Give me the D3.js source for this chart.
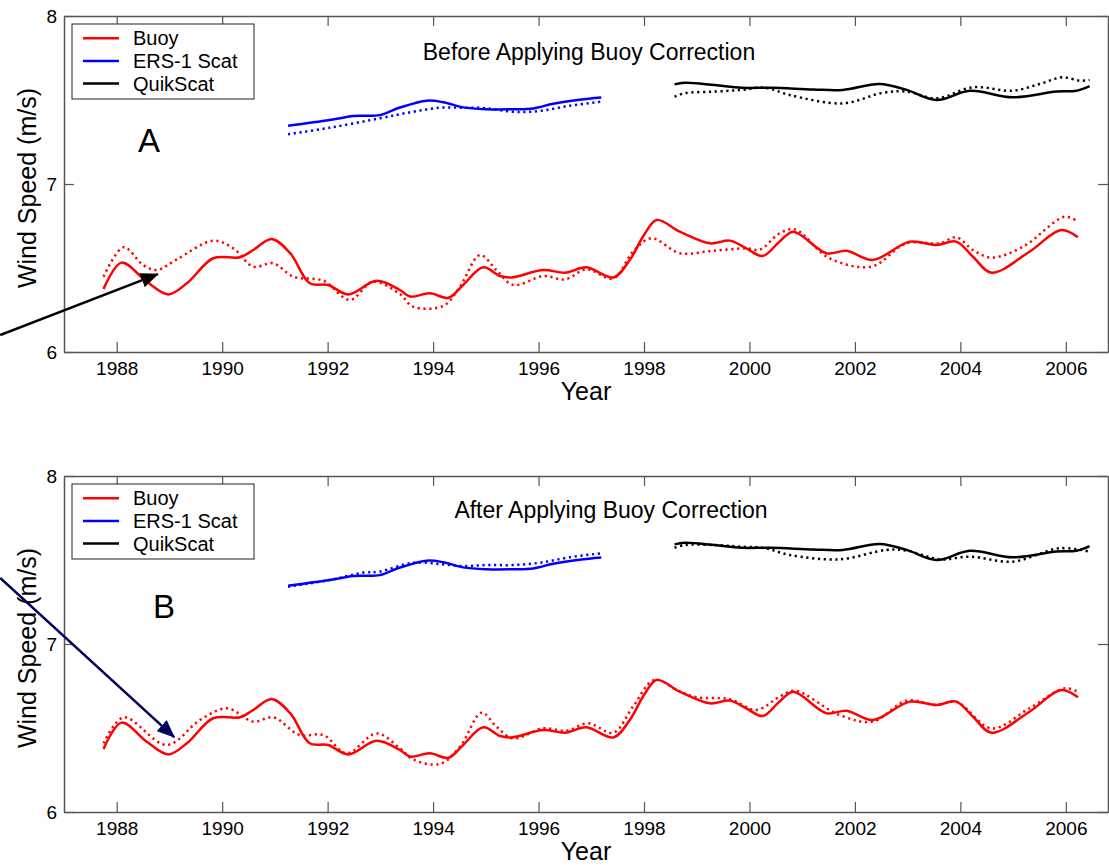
<!DOCTYPE html>
<html>
<head>
<meta charset="utf-8">
<script src="https://cdn.jsdelivr.net/npm/d3@7"></script>
<style>
  body { margin: 0; background: #fff; }
  svg text { font-family: Arial, "Liberation Sans", Helvetica, sans-serif; fill: #000; }
</style>
</head>
<body>
<svg id="chart" width="1109" height="866"></svg>
<script>
// ---- data -------------------------------------------------------------
const xTicks = [1988, 1990, 1992, 1994, 1996, 1998, 2000, 2002, 2004, 2006];
const yTicks = [6, 7, 8];
const legendLabels = ["Buoy", "ERS-1 Scat", "QuikScat"];
const legendColors = ["#ff0000", "#0000ff", "#000000"];
const panelTitles = ["Before Applying Buoy Correction", "After Applying Buoy Correction"];
const panelLetters = ["A", "B"];

// solid curves: [year, wind speed m/s]
const buoySolid = [
  [1987.75, 6.375], [1988.09, 6.532], [1988.57, 6.418], [1988.98, 6.343], [1989.33, 6.409],
  [1989.83, 6.558], [1990.34, 6.564], [1990.59, 6.607], [1990.94, 6.673], [1991.29, 6.588],
  [1991.66, 6.409], [1992.01, 6.399], [1992.39, 6.343], [1992.93, 6.424], [1993.37, 6.369],
  [1993.56, 6.330], [1993.94, 6.349], [1994.29, 6.323], [1994.57, 6.399], [1994.95, 6.504],
  [1995.27, 6.452], [1995.49, 6.444], [1996.09, 6.488], [1996.50, 6.472], [1996.91, 6.504],
  [1997.42, 6.444], [1997.73, 6.548], [1998.00, 6.696], [1998.24, 6.786], [1998.68, 6.716],
  [1999.25, 6.647], [1999.63, 6.663], [1999.94, 6.617], [2000.25, 6.571], [2000.57, 6.657],
  [2000.83, 6.716], [2001.46, 6.588], [2001.84, 6.603], [2002.34, 6.548], [2003.04, 6.657],
  [2003.55, 6.637], [2003.92, 6.657], [2004.24, 6.567], [2004.59, 6.472], [2005.31, 6.597],
  [2005.91, 6.726], [2006.23, 6.683]
];
const ersSolid = [
  [1991.25, 7.347], [1992.04, 7.381], [1992.49, 7.405], [1992.99, 7.410], [1993.37, 7.455],
  [1993.88, 7.496], [1994.19, 7.487], [1994.57, 7.456], [1995.01, 7.445], [1995.52, 7.445],
  [1995.90, 7.450], [1996.28, 7.478], [1996.78, 7.502], [1997.19, 7.515]
];
const qscatSolid = [
  [1998.58, 7.593], [1998.77, 7.603], [1999.34, 7.589], [1999.85, 7.573], [2000.42, 7.573],
  [2001.21, 7.563], [2001.77, 7.560], [2002.47, 7.595], [2002.98, 7.560], [2003.55, 7.500],
  [2004.18, 7.555], [2004.99, 7.516], [2005.82, 7.550], [2006.20, 7.555], [2006.45, 7.583]
];

// dotted curves, before correction
const buoyDottedBefore = [
  [1987.75, 6.448], [1988.13, 6.623], [1988.50, 6.518], [1988.76, 6.488], [1989.14, 6.551],
  [1989.83, 6.663], [1990.21, 6.617], [1990.59, 6.508], [1990.97, 6.528], [1991.35, 6.448],
  [1991.92, 6.424], [1992.42, 6.310], [1992.86, 6.418], [1993.37, 6.345], [1993.62, 6.270],
  [1994.19, 6.274], [1994.51, 6.389], [1994.89, 6.577], [1995.20, 6.488], [1995.52, 6.399],
  [1996.09, 6.452], [1996.50, 6.432], [1996.91, 6.492], [1997.42, 6.438], [1997.79, 6.597],
  [1998.14, 6.677], [1998.68, 6.588], [1999.31, 6.603], [1999.94, 6.617], [2000.20, 6.610],
  [2000.57, 6.706], [2000.86, 6.730], [2001.52, 6.558], [2002.31, 6.508], [2002.98, 6.647],
  [2003.61, 6.647], [2003.92, 6.683], [2004.24, 6.607], [2004.59, 6.562], [2005.19, 6.627],
  [2005.98, 6.805], [2006.23, 6.776]
];
const ersDottedBefore = [
  [1991.25, 7.296], [1992.04, 7.335], [1992.99, 7.391], [1993.62, 7.430], [1994.13, 7.454],
  [1994.57, 7.454], [1995.01, 7.451], [1995.52, 7.430], [1996.03, 7.435], [1996.59, 7.466],
  [1997.19, 7.490]
];
const qscatDottedBefore = [
  [1998.58, 7.520], [1998.77, 7.540], [1999.34, 7.550], [1999.85, 7.560], [2000.30, 7.573],
  [2000.76, 7.530], [2001.77, 7.480], [2002.53, 7.543], [2002.98, 7.550], [2003.55, 7.510],
  [2004.24, 7.576], [2004.99, 7.555], [2005.50, 7.595], [2005.94, 7.635], [2006.26, 7.615],
  [2006.45, 7.619]
];

// dotted curves, after correction
const buoyDottedAfter = [
  [1987.75, 6.409], [1988.13, 6.563], [1988.95, 6.399], [1989.58, 6.548], [1990.09, 6.617],
  [1990.59, 6.538], [1990.97, 6.563], [1991.47, 6.458], [1991.92, 6.458], [1992.36, 6.349],
  [1992.93, 6.468], [1993.37, 6.379], [1993.62, 6.313], [1994.13, 6.286], [1994.51, 6.389],
  [1994.92, 6.591], [1995.20, 6.508], [1995.52, 6.438], [1996.09, 6.498], [1996.53, 6.484],
  [1996.94, 6.528], [1997.42, 6.472], [1997.79, 6.627], [1998.20, 6.786], [1998.68, 6.716],
  [1999.00, 6.683], [1999.63, 6.671], [2000.13, 6.607], [2000.57, 6.686], [2000.86, 6.722],
  [2001.71, 6.577], [2002.34, 6.538], [2002.98, 6.663], [2003.55, 6.637], [2003.92, 6.657],
  [2004.59, 6.498], [2005.31, 6.617], [2005.98, 6.736], [2006.23, 6.716]
];
const ersDottedAfter = [
  [1991.25, 7.341], [1992.04, 7.381], [1992.68, 7.425], [1992.99, 7.431], [1993.62, 7.484],
  [1994.13, 7.476], [1994.57, 7.464], [1995.01, 7.470], [1995.52, 7.470], [1996.03, 7.484],
  [1996.59, 7.516], [1997.19, 7.540]
];
const qscatDottedAfter = [
  [1998.58, 7.573], [1998.77, 7.589], [1999.34, 7.589], [1999.85, 7.579], [2000.30, 7.570],
  [2000.76, 7.530], [2001.71, 7.504], [2002.60, 7.560], [2002.98, 7.556], [2003.61, 7.504],
  [2004.18, 7.520], [2004.99, 7.490], [2005.88, 7.570], [2006.45, 7.550]
];

// annotation arrows: [year, value] of tail and head
const arrowBefore = [[1985.79, 6.101], [1988.78, 6.464]];
const arrowAfter = [[1985.79, 7.393], [1989.09, 6.446]];

// ---- layout -------------------------------------------------------------
const svg = d3.select("#chart");
const left = 64, right = 1108;
const x = d3.scaleLinear().domain([1987, 2006.8]).range([left, right]);

const panels = [
  { top: 16, bottom: 352, title: panelTitles[0], letter: panelLetters[0],
    titleX: 589, titleY: 60, letterX: 138, letterY: 152,
    dotted: [buoyDottedBefore, ersDottedBefore, qscatDottedBefore],
    arrow: arrowBefore, arrowColor: "#000000" },
  { top: 476, bottom: 812, title: panelTitles[1], letter: panelLetters[1],
    titleX: 611, titleY: 518, letterX: 153, letterY: 618,
    dotted: [buoyDottedAfter, ersDottedAfter, qscatDottedAfter],
    arrow: arrowAfter, arrowColor: "#00005e" }
];
const solids = [buoySolid, ersSolid, qscatSolid];

const defs = svg.append("defs");
panels.forEach((p, i) => {
  defs.append("marker")
    .attr("id", "head" + i)
    .attr("viewBox", "0 0 18 15")
    .attr("refX", 17).attr("refY", 7.5)
    .attr("markerWidth", 18).attr("markerHeight", 15)
    .attr("markerUnits", "userSpaceOnUse")
    .attr("orient", "auto")
    .append("path")
    .attr("d", "M0,0 L18,7.5 L0,15 Z")
    .attr("fill", p.arrowColor);
});

const axisColor = "#555";

panels.forEach((p, i) => {
  const y = d3.scaleLinear().domain([6, 8]).range([p.bottom, p.top]);
  const g = svg.append("g");

  // axes box with inward ticks on all four sides
  const xb = g.append("g").attr("transform", `translate(0,${p.bottom})`)
    .call(d3.axisBottom(x).tickValues(xTicks).tickFormat(d3.format("d"))
      .tickSizeInner(-10).tickSizeOuter(0).tickPadding(9.5));
  const xt = g.append("g").attr("transform", `translate(0,${p.top})`)
    .call(d3.axisTop(x).tickValues(xTicks).tickFormat("")
      .tickSizeInner(-10).tickSizeOuter(0));
  const yl = g.append("g").attr("transform", `translate(${left},0)`)
    .call(d3.axisLeft(y).tickValues(yTicks).tickFormat(d3.format("d"))
      .tickSizeInner(-10).tickSizeOuter(0).tickPadding(7));
  const yr = g.append("g").attr("transform", `translate(${right},0)`)
    .call(d3.axisRight(y).tickValues(yTicks).tickFormat("")
      .tickSizeInner(-10).tickSizeOuter(0));
  [xb, xt, yl, yr].forEach(a => {
    a.select(".domain").attr("stroke", axisColor).attr("stroke-width", 1.5);
    a.selectAll(".tick line").attr("stroke", axisColor).attr("stroke-width", 1.2);
    a.selectAll(".tick text").attr("font-size", 19).attr("fill", "#000")
      .style("font-family", "Arial, 'Liberation Sans', sans-serif");
  });

  // curves
  const line = d3.line()
    .x(d => x(d[0])).y(d => y(d[1]))
    .curve(d3.curveCatmullRom.alpha(0.5));
  const curves = g.append("g").attr("fill", "none");
  solids.forEach((s, k) => {
    curves.append("path").attr("d", line(s))
      .attr("stroke", legendColors[k]).attr("stroke-width", 2.5)
      .attr("stroke-linejoin", "round");
  });
  p.dotted.forEach((s, k) => {
    curves.append("path").attr("d", line(s))
      .attr("stroke", legendColors[k]).attr("stroke-width", 2.5)
      .attr("stroke-dasharray", "2.2,3.6");
  });

  // legend
  const lg = g.append("g").attr("transform", `translate(72,${p.top + 8})`);
  lg.append("rect").attr("width", 182).attr("height", 75)
    .attr("fill", "#fff").attr("stroke", "#222").attr("stroke-width", 1);
  legendLabels.forEach((lab, k) => {
    const yy = 14.3 + k * 22.6;
    lg.append("line").attr("x1", 11).attr("x2", 47).attr("y1", yy).attr("y2", yy)
      .attr("stroke", legendColors[k]).attr("stroke-width", 2.5);
    lg.append("text").attr("x", 61).attr("y", yy + 7).attr("font-size", 20).text(lab);
  });

  // title and panel letter
  g.append("text").attr("x", p.titleX).attr("y", p.titleY)
    .attr("text-anchor", "middle").attr("font-size", 23).text(p.title);
  g.append("text").attr("x", p.letterX).attr("y", p.letterY)
    .attr("font-size", 33).text(p.letter);

  // axis titles
  g.append("text").attr("x", (left + right) / 2).attr("y", p.bottom + 48)
    .attr("text-anchor", "middle").attr("font-size", 25).text("Year");
  g.append("text")
    .attr("transform", `translate(36,${(p.top + p.bottom) / 2 + 4}) rotate(-90)`)
    .attr("text-anchor", "middle").attr("font-size", 25).text("Wind Speed (m/s)");

  // annotation arrow
  g.append("line")
    .attr("x1", x(p.arrow[0][0])).attr("y1", y(p.arrow[0][1]))
    .attr("x2", x(p.arrow[1][0])).attr("y2", y(p.arrow[1][1]))
    .attr("stroke", p.arrowColor).attr("stroke-width", 2.5)
    .attr("marker-end", `url(#head${i})`);
});
</script>
</body>
</html>
